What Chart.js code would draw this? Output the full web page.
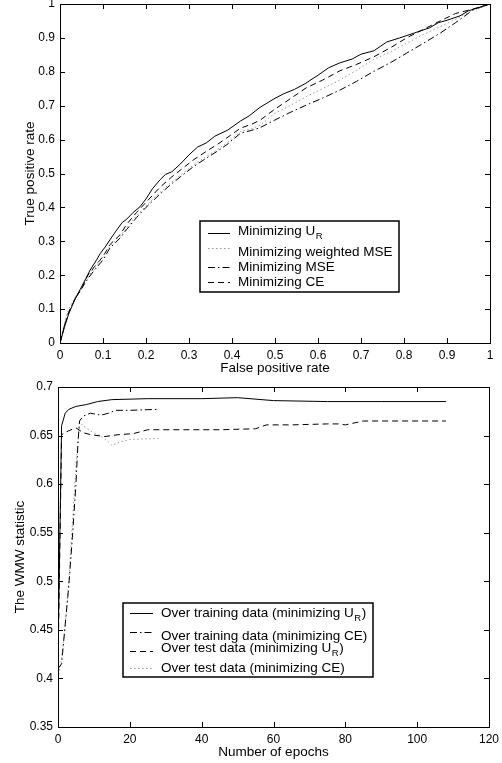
<!DOCTYPE html>
<html>
<head>
<meta charset="utf-8">
<script src="https://cdn.jsdelivr.net/npm/chart.js@4"></script>
<style>
body { margin: 0; background: #fff; }
.box { position: absolute; left: 0; width: 502px; }
#top { top: 0; height: 380px; }
#bottom { top: 370px; height: 393px; }
</style>
</head>
<body>
<div class="box" id="top"><canvas id="roc"></canvas></div>
<div class="box" id="bottom"><canvas id="wmw"></canvas></div>
<script>
// --- top: ROC curves ---
var rocTicks = [0, 0.1, 0.2, 0.3, 0.4, 0.5, 0.6, 0.7, 0.8, 0.9, 1];

var urFpr = [0, 0.01, 0.02, 0.035, 0.047, 0.06, 0.07, 0.085, 0.093, 0.105, 0.116, 0.13, 0.145, 0.155, 0.17, 0.186, 0.2, 0.215, 0.233, 0.245, 0.26, 0.28, 0.3, 0.32, 0.34, 0.36, 0.39, 0.42, 0.44, 0.465, 0.5, 0.52, 0.545, 0.57, 0.6, 0.625, 0.65, 0.68, 0.7, 0.73, 0.76, 0.79, 0.83, 0.86, 0.88, 0.9, 0.93, 0.95, 0.97, 1];
var urTpr = [0, 0.045, 0.085, 0.13, 0.158, 0.19, 0.215, 0.245, 0.263, 0.283, 0.304, 0.33, 0.356, 0.365, 0.385, 0.402, 0.425, 0.455, 0.482, 0.497, 0.505, 0.528, 0.555, 0.578, 0.59, 0.61, 0.628, 0.655, 0.67, 0.695, 0.722, 0.735, 0.748, 0.765, 0.79, 0.812, 0.826, 0.838, 0.852, 0.862, 0.888, 0.9, 0.917, 0.93, 0.945, 0.952, 0.965, 0.98, 0.988, 1];

// shared fpr grid for the other three
var fprGrid = [0, 0.01, 0.02, 0.035, 0.05, 0.065, 0.08, 0.1, 0.116, 0.14, 0.155, 0.178, 0.2, 0.233, 0.26, 0.285, 0.31, 0.34, 0.365, 0.388, 0.42, 0.445, 0.465, 0.5, 0.535, 0.573, 0.61, 0.651, 0.69, 0.728, 0.77, 0.806, 0.845, 0.884, 0.92, 0.96, 1];
var wmseTpr = [0, 0.055, 0.1, 0.135, 0.165, 0.195, 0.22, 0.255, 0.285, 0.315, 0.34, 0.375, 0.405, 0.445, 0.475, 0.5, 0.525, 0.55, 0.57, 0.59, 0.624, 0.632, 0.642, 0.678, 0.7, 0.727, 0.75, 0.776, 0.805, 0.835, 0.86, 0.884, 0.91, 0.933, 0.955, 0.982, 1];
var mseTpr = [0, 0.05, 0.09, 0.13, 0.16, 0.19, 0.215, 0.245, 0.28, 0.31, 0.335, 0.37, 0.4, 0.44, 0.47, 0.495, 0.52, 0.545, 0.565, 0.585, 0.619, 0.627, 0.635, 0.658, 0.68, 0.702, 0.722, 0.746, 0.772, 0.8, 0.828, 0.855, 0.884, 0.914, 0.945, 0.982, 1];
var ceTpr = [0, 0.05, 0.09, 0.13, 0.16, 0.2, 0.225, 0.255, 0.29, 0.32, 0.35, 0.385, 0.415, 0.46, 0.49, 0.515, 0.54, 0.565, 0.585, 0.605, 0.634, 0.645, 0.657, 0.69, 0.72, 0.753, 0.775, 0.803, 0.822, 0.843, 0.872, 0.9, 0.925, 0.95, 0.972, 0.985, 1];

// --- bottom: WMW statistic over epochs ---
var epochTicks = [0, 20, 40, 60, 80, 100, 120];
var wmwTicks = [0.35, 0.4, 0.45, 0.5, 0.55, 0.6, 0.65, 0.7];

var trainUrEpochs = [0, 1, 2, 3, 5, 8, 11, 15, 25, 40, 50, 60, 75, 90, 108];
var trainUrWmw = [0.425, 0.66, 0.673, 0.677, 0.68, 0.682, 0.685, 0.687, 0.688, 0.688, 0.689, 0.686, 0.685, 0.685, 0.685];

var trainCeEpochs = [0, 1, 2, 3, 4, 5, 5.6, 6, 7, 9, 12, 14, 16, 20, 28];
var trainCeWmw = [0.41, 0.415, 0.455, 0.495, 0.545, 0.6, 0.645, 0.665, 0.67, 0.673, 0.671, 0.673, 0.676, 0.676, 0.677];

var testUrEpochs = [0, 1, 3, 5, 7, 9, 13, 17, 21, 25, 35, 45, 55, 58, 65, 75, 78, 80, 85, 95, 108];
var testUrWmw = [0.41, 0.651, 0.655, 0.658, 0.653, 0.651, 0.649, 0.651, 0.652, 0.656, 0.656, 0.656, 0.657, 0.661, 0.661, 0.662, 0.662, 0.661, 0.665, 0.665, 0.665];

var testCeEpochs = [0, 1, 2, 3, 4, 5, 6, 7, 9, 11, 13, 15, 17, 20, 28];
var testCeWmw = [0.40, 0.42, 0.455, 0.5, 0.56, 0.62, 0.664, 0.66, 0.655, 0.651, 0.647, 0.64, 0.643, 0.646, 0.647];

var FONT = 'Liberation Sans';
Chart.defaults.font.family = FONT;
Chart.defaults.color = '#000';

function pts(xs, ys) {
  return xs.map(function (x, i) { return { x: x, y: ys[i] }; });
}

function line(label, xs, ys, dash, color) {
  return {
    label: label, data: pts(xs, ys),
    borderColor: color || '#000', borderWidth: 1, borderDash: dash,
    pointRadius: 0, tension: 0, fill: false
  };
}

function fmt(v) { return String(+v.toFixed(2)); }

// box around the plot with inward ticks on all four sides
var frameTicks = {
  id: 'frameTicks',
  afterDatasetsDraw: function (chart) {
    var a = chart.chartArea, ctx = chart.ctx;
    var xs = chart.scales.x, ys = chart.scales.y;
    ctx.save();
    ctx.strokeStyle = '#000';
    ctx.lineWidth = 1;
    ctx.beginPath();
    xs.ticks.forEach(function (t) {
      var p = Math.round(xs.getPixelForValue(t.value)) + 0.5;
      ctx.moveTo(p, a.bottom); ctx.lineTo(p, a.bottom - 5);
      ctx.moveTo(p, a.top); ctx.lineTo(p, a.top + 5);
    });
    ys.ticks.forEach(function (t) {
      var p = Math.round(ys.getPixelForValue(t.value)) + 0.5;
      ctx.moveTo(a.left, p); ctx.lineTo(a.left + 5, p);
      ctx.moveTo(a.right, p); ctx.lineTo(a.right - 5, p);
    });
    ctx.stroke();
    ctx.strokeRect(Math.round(a.left) + 0.5, Math.round(a.top) + 0.5,
      Math.round(a.right - a.left), Math.round(a.bottom - a.top));
    ctx.restore();
  }
};

// matlab style legend box, "_R" drawn as subscript
var boxLegend = {
  id: 'boxLegend',
  afterDraw: function (chart, args, o) {
    var ctx = chart.ctx;
    ctx.save();
    ctx.fillStyle = '#fff';
    ctx.fillRect(o.x, o.y, o.w, o.h);
    ctx.lineWidth = 1.5;
    ctx.strokeStyle = '#000';
    ctx.strokeRect(o.x, o.y, o.w, o.h);
    chart.data.datasets.forEach(function (ds, i) {
      var r = o.rows[i];
      ctx.beginPath();
      ctx.setLineDash(ds.borderDash || []);
      ctx.strokeStyle = ds.borderColor;
      ctx.lineWidth = 1;
      ctx.moveTo(o.x + o.s0, o.y + r[0] + 0.5);
      ctx.lineTo(o.x + o.s1, o.y + r[0] + 0.5);
      ctx.stroke();
      ctx.setLineDash([]);
      ctx.fillStyle = '#000';
      ctx.textBaseline = 'middle';
      ctx.font = '13.5px "' + FONT + '"';
      var parts = ds.label.split('_R');
      var tx = o.x + o.t, ty = o.y + r[1];
      ctx.fillText(parts[0], tx, ty);
      if (parts.length > 1) {
        tx += ctx.measureText(parts[0]).width;
        ctx.font = '9.5px "' + FONT + '"';
        ctx.fillText('R', tx + 0.5, ty + 5);
        tx += ctx.measureText('R').width + 1;
        ctx.font = '13.5px "' + FONT + '"';
        ctx.fillText(parts[1], tx, ty);
      }
    });
    ctx.restore();
  }
};

function axes(xTicks, yTicks, xMin, xMax, yMin, yMax, xTitle, yTitle, yWidth, xHeight, yTitlePad, xTitlePad) {
  return {
    x: {
      type: 'linear', min: xMin, max: xMax,
      grid: { display: false, drawTicks: false }, border: { display: false },
      ticks: { padding: 5, font: { size: 12 }, callback: fmt, maxRotation: 0 },
      afterBuildTicks: function (s) { s.ticks = xTicks.map(function (v) { return { value: v }; }); },
      afterFit: function (s) { s.height = xHeight; s.paddingLeft = 0; s.paddingRight = 0; },
      title: { display: true, text: xTitle, font: { size: 13.5 }, padding: { top: 0, bottom: xTitlePad } }
    },
    y: {
      type: 'linear', min: yMin, max: yMax,
      grid: { display: false, drawTicks: false }, border: { display: false },
      ticks: { padding: 5, font: { size: 12 }, callback: fmt },
      afterBuildTicks: function (s) { s.ticks = yTicks.map(function (v) { return { value: v }; }); },
      afterFit: function (s) { s.width = yWidth; s.paddingTop = 0; s.paddingBottom = 0; },
      title: { display: true, text: yTitle, font: { size: 13.5 }, padding: { top: yTitlePad, bottom: 0 } }
    }
  };
}

new Chart(document.getElementById('roc'), {
  type: 'line',
  data: {
    datasets: [
      line('Minimizing U_R', urFpr, urTpr, []),
      line('Minimizing weighted MSE', fprGrid, wmseTpr, [1.5, 2.5], '#999'),
      line('Minimizing MSE', fprGrid, mseTpr, [7, 3, 1.5, 3]),
      line('Minimizing CE', fprGrid, ceTpr, [6, 4])
    ]
  },
  options: {
    responsive: true, maintainAspectRatio: false, animation: false,
    layout: { padding: { top: 4, right: 12, left: 0, bottom: 0 } },
    scales: axes(rocTicks, rocTicks, 0, 1, 0, 1, 'False positive rate', 'True positive rate', 60, 37, 22, 4),
    plugins: {
      legend: { display: false }, tooltip: { enabled: false },
      boxLegend: { x: 200, y: 221, w: 199, h: 71, s0: 8, s1: 30, t: 38,
        rows: [[12, 10], [27, 31], [46, 46], [61, 61]] }
    }
  },
  plugins: [frameTicks, boxLegend]
});

new Chart(document.getElementById('wmw'), {
  type: 'line',
  data: {
    datasets: [
      line('Over training data (minimizing U_R)', trainUrEpochs, trainUrWmw, []),
      line('Over training data (minimizing CE)', trainCeEpochs, trainCeWmw, [7, 3, 1.5, 3]),
      line('Over test data (minimizing U_R)', testUrEpochs, testUrWmw, [6, 4]),
      line('Over test data (minimizing CE)', testCeEpochs, testCeWmw, [1.5, 2.5], '#999')
    ]
  },
  options: {
    responsive: true, maintainAspectRatio: false, animation: false,
    layout: { padding: { top: 17, right: 13, left: 0, bottom: 0 } },
    scales: axes(epochTicks, wmwTicks, 0, 120, 0.35, 0.7, 'Number of epochs', 'The WMW statistic', 58, 36, 12, 3),
    plugins: {
      legend: { display: false }, tooltip: { enabled: false },
      boxLegend: { x: 123, y: 233, w: 250, h: 74, s0: 7, s1: 30, t: 38,
        rows: [[10, 10], [29, 33], [48, 45], [65, 65]] }
    }
  },
  plugins: [frameTicks, boxLegend]
});
</script>
</body>
</html>
